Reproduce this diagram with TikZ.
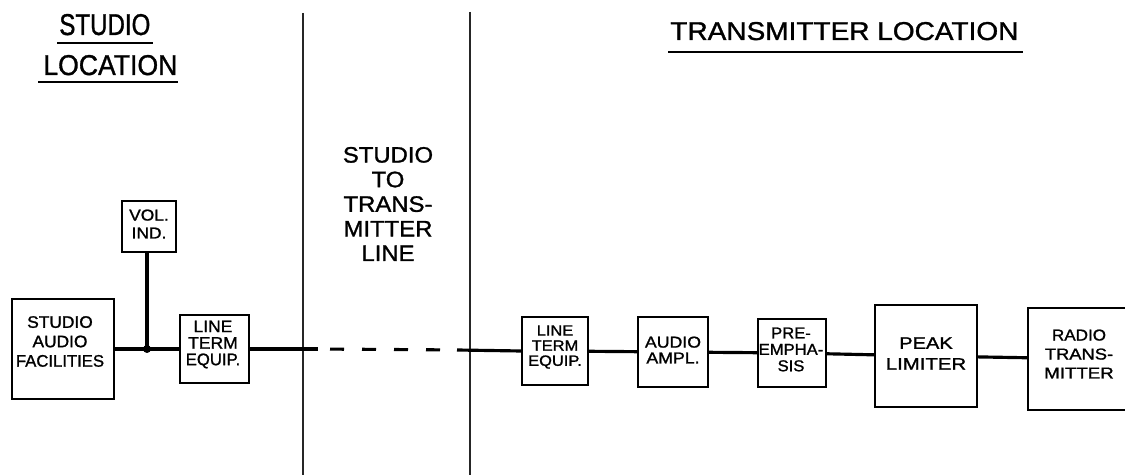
\documentclass[tikz,border=0pt]{standalone}
\usepackage{fontspec}
\setmainfont{Liberation Sans}[FakeBold=1.2]
\usepackage{graphicx}
\usetikzlibrary{calc}
\newlength\px
\setlength\px{0.02cm}
\newcommand\sx[2]{\scalebox{#1}[1]{#2}}
\tikzset{
  blockbox/.style={draw, line width=1.1pt, rectangle, inner sep=0pt},
  wire/.style={line width=1.8pt},
  divider/.style={line width=0.8pt, black!85},
  lbl/.style={align=center, inner sep=0pt},
  ttl/.style={anchor=base west, inner sep=0pt},
  uline/.style={line width=1.1pt}
}
\begin{document}
\begin{tikzpicture}[x=0.02cm, y=-0.02cm]
\useasboundingbox (0,0) rectangle (1125,475);
\clip (0,0) rectangle (1125,475);
\fill[white] (0,0) rectangle (1125,475);

% titles
\node[ttl] (ttlA) at (59,35) {\resizebox{91\px}{21\px}{STUDIO}};
\node[ttl] (ttlB) at (43,75) {\resizebox{134\px}{20\px}{LOCATION}};
\node[ttl] (ttlC) at (670,40) {\resizebox{348\px}{18\px}{TRANSMITTER LOCATION}};
\draw[uline] ($(ttlA.base west)+(-2,8)$) -- ($(ttlA.base east)+(2,8)$);
\draw[uline, line width=1.4pt] ($(ttlB.base west)+(-5,7)$) -- ($(ttlB.base east)+(0,7)$);
\draw[uline] ($(ttlC.base west)+(-2,12)$) -- ($(ttlC.base east)+(4,12)$);

% dividers
\coordinate (a1) at (303,13);
\coordinate (a2) at (303,475);
\coordinate (b1) at (470,12);
\coordinate (b2) at (470,475);
\draw[divider] (a1) -- (a2);
\draw[divider] (b1) -- (b2);

\node[lbl, font=\fontsize{12.7}{14}\selectfont] (mid) at (388,204)
  {\sx{1.07}{STUDIO}\\\sx{1.07}{TO}\\\sx{1.07}{TRANS-}\\\sx{1.07}{MITTER}\\\sx{1.07}{LINE}};

% boxes
\node[blockbox, minimum width=102\px, minimum height=100\px] (s1) at (63,349) {};
\node[blockbox, minimum width=54\px, minimum height=51\px] (v) at (149,226.5) {};
\node[blockbox, minimum width=69\px, minimum height=68\px] (lt1) at (214.5,349) {};
\node[blockbox, minimum width=66\px, minimum height=68\px] (lt2) at (555,351) {};
\node[blockbox, minimum width=70\px, minimum height=70\px] (aa) at (673,352) {};
\node[blockbox, minimum width=68\px, minimum height=68\px] (pe) at (792,353) {};
\node[blockbox, minimum width=102\px, minimum height=102\px] (pl) at (926,356) {};
\node[blockbox, minimum width=140\px, minimum height=102\px] (rt) at (1098,359) {};

% labels
\node[lbl, font=\fontsize{9.5}{11.05}\selectfont] (s1t) at (60,341.5)
  {\sx{1.04}{STUDIO}\\\sx{1.04}{AUDIO}\\\sx{1.0}{FACILITIES}};
\node[lbl, font=\fontsize{9}{10.2}\selectfont] (vt) at (149,224)
  {\sx{1.1}{VOL.}\\\sx{1.1}{IND.}};
\node[lbl, font=\fontsize{9.5}{9.4}\selectfont] (lt1t) at (213,344.5)
  {\sx{1.05}{LINE}\\\sx{1.05}{TERM}\\\sx{1.0}{EQUIP.}};
\node[lbl, font=\fontsize{8.5}{8.6}\selectfont] (lt2t) at (555,347)
  {\sx{1.1}{LINE}\\\sx{1.1}{TERM}\\\sx{1.1}{EQUIP.}};
\node[lbl, font=\fontsize{9}{9}\selectfont] (aat) at (673,350)
  {\sx{1.12}{AUDIO}\\\sx{1.12}{AMPL.}};
\node[lbl, font=\fontsize{9}{9.35}\selectfont] (pet) at (791,349.5)
  {\sx{1.05}{PRE-}\\\sx{1.05}{EMPHA-}\\\sx{1.05}{SIS}};
\node[lbl, font=\fontsize{9.5}{11.9}\selectfont] (plt) at (926,353.5)
  {\sx{1.2}{PEAK}\\\sx{1.22}{LIMITER}};
\node[lbl, font=\fontsize{9}{10.8}\selectfont] (rtt) at (1079,354)
  {\sx{1.08}{RADIO}\\\sx{1.16}{TRANS-}\\\sx{1.18}{MITTER}};

% junction and connectors
\node[circle, fill, inner sep=0pt, minimum size=8\px] (j) at (147,349) {};
\draw[wire] (s1.east) -- (j.center) -- (lt1.west);
\draw[wire, line width=2pt] (j.center) -- (j.center |- v.south);
\coordinate (d1) at (318,349);
\coordinate (d2) at (457,350);
\draw[wire] (lt1.east) -- (d1);
\draw[wire, dash pattern=on 14\px off 18\px, dash phase=20\px] (d1) -- (d2);
\draw[wire] (d2) -- (lt2.west);
\draw[wire] (lt2) -- (aa);
\draw[wire] (aa) -- (pe);
\draw[wire] (pe) -- (pl);
\draw[wire] (pl) -- (rt);
\end{tikzpicture}
\end{document}
